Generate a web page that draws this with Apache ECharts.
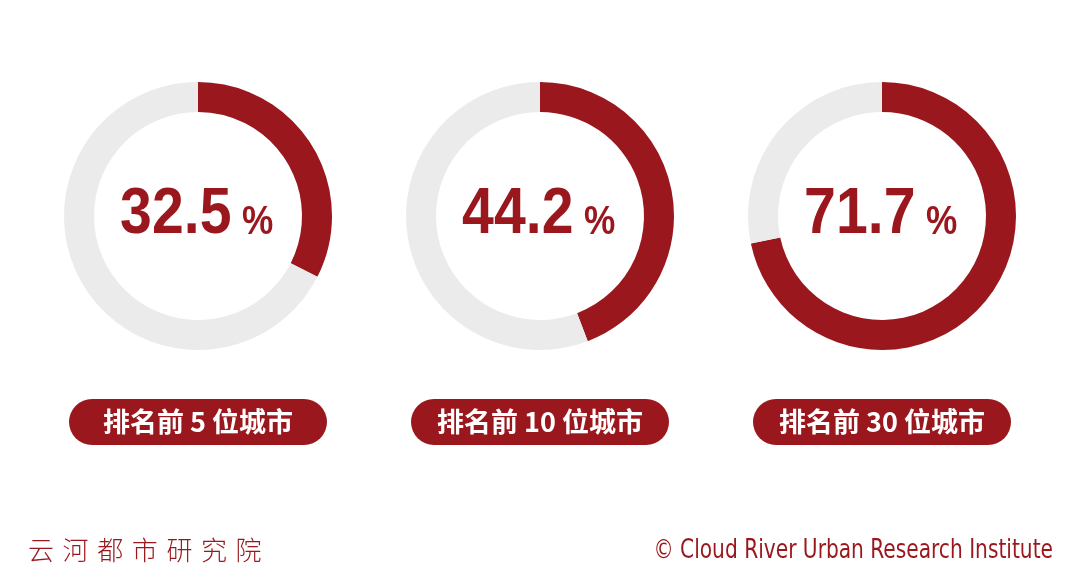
<!DOCTYPE html>
<html>
<head>
<meta charset="utf-8">
<script src="https://cdn.jsdelivr.net/npm/echarts@6/dist/echarts.min.js"></script>
<style>
  html, body { margin: 0; padding: 0; background: #fff; }
  #chart { width: 1080px; height: 579px; }
</style>
</head>
<body>
<div id="chart"></div>
<script>
// 排名分组
var categories = ['排名前 5 位城市', '排名前 10 位城市', '排名前 30 位城市'];
// 占比 %
var shares = [32.5, 44.2, 71.7];

var RED = '#99171d';
var GRAY = '#ebebeb';
var centersX = [198, 540, 882];
var centerY = 216;
var numFont = '"Liberation Sans", Arial, sans-serif';

var chart = echarts.init(document.getElementById('chart'));

var series = shares.map(function (v, i) {
  return {
    type: 'pie',
    center: [centersX[i], centerY],
    radius: [104, 134],
    startAngle: 90,
    silent: true,
    animation: false,
    label: { show: false },
    labelLine: { show: false },
    data: [
      { value: v, itemStyle: { color: RED } },
      { value: 100 - v, itemStyle: { color: GRAY } }
    ]
  };
});

var graphics = [];
shares.forEach(function (v, i) {
  // 中间数字，窄体效果用 scaleX
  graphics.push({
    type: 'group',
    x: centersX[i],
    y: centerY,
    scaleX: 0.88,
    children: [
      {
        type: 'text',
        x: 38,
        y: -1,
        style: {
          text: v.toFixed(1),
          fill: RED,
          font: 'bold 65px ' + numFont,
          align: 'right',
          verticalAlign: 'middle'
        }
      },
      {
        type: 'text',
        x: 50,
        y: 7,
        style: {
          text: '%',
          fill: RED,
          font: 'bold 40px ' + numFont,
          align: 'left',
          verticalAlign: 'middle'
        }
      }
    ]
  });
});
categories.forEach(function (c, i) {
  graphics.push({
    type: 'rect',
    shape: { x: centersX[i] - 129, y: 399, width: 258, height: 46, r: 23 },
    style: { fill: RED }
  });
  graphics.push({
    type: 'text',
    x: centersX[i],
    y: 422,
    style: {
      text: c,
      fill: '#fff',
      font: 'bold 27px "Noto Sans CJK SC", sans-serif',
      align: 'center',
      verticalAlign: 'middle'
    }
  });
});
'云河都市研究院'.split('').forEach(function (ch, i) {
  graphics.push({
    type: 'text',
    x: 28 + i * 34.6,
    y: 550,
    style: {
      text: ch,
      fill: RED,
      font: '300 26px "Noto Sans CJK SC", sans-serif',
      verticalAlign: 'middle'
    }
  });
});
graphics.push({
  type: 'group',
  x: 1053,
  y: 551,
  scaleX: 0.863,
  children: [{
    type: 'text',
    x: 0,
    y: 0,
    style: {
      text: '© Cloud River Urban Research Institute',
      fill: RED,
      font: '26px "DejaVu Sans Condensed", sans-serif',
      align: 'right',
      verticalAlign: 'middle'
    }
  }]
});

chart.setOption({
  backgroundColor: '#fff',
  series: series,
  graphic: graphics
});
</script>
</body>
</html>
